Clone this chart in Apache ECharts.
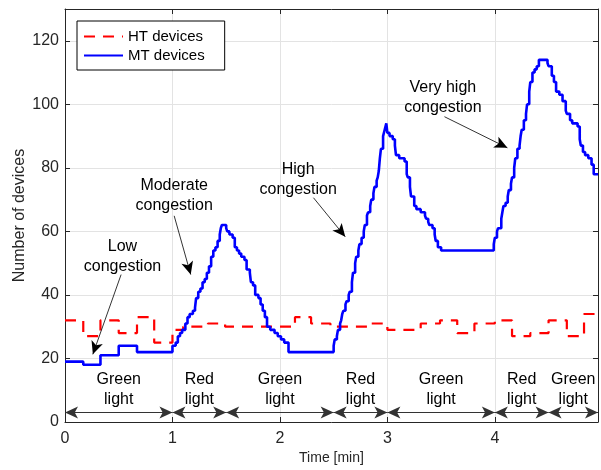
<!DOCTYPE html>
<html>
<head>
<meta charset="utf-8">
<script src="https://cdn.jsdelivr.net/npm/echarts@6.0.0/dist/echarts.min.js"></script>
<style>
    html, body { margin: 0; padding: 0; background: #fff; }
    #main { width: 601px; height: 470px; }
</style>
</head>
<body>
<div id="main"></div>
<script>
// time in minutes, value held until the next time (stairs)
var htTime = [0, 0.17, 0.33, 0.50, 0.67, 0.83, 1.00, 1.10, 1.33, 1.49, 2.14, 2.29, 2.47, 2.83,
    3.00, 3.31, 3.49, 3.65, 3.81, 4.00, 4.16, 4.33, 4.50, 4.67, 4.83, 4.96];
var htValue = [32, 27, 32, 28, 33, 25, 29, 30, 31, 30, 33, 31, 30, 31,
    29, 31, 32, 28, 31, 32, 27, 28, 32, 27, 34, 34];

var mtTime = [0, 0.17, 0.33, 0.50, 0.67,
    1.00, 1.03, 1.05, 1.07, 1.09, 1.12, 1.14, 1.16, 1.19, 1.21, 1.22, 1.24, 1.26, 1.28, 1.30,
    1.32, 1.34, 1.36, 1.38, 1.40, 1.42, 1.44, 1.45, 1.46, 1.50, 1.51, 1.53, 1.56, 1.58, 1.60,
    1.62, 1.64, 1.67, 1.69, 1.72, 1.73, 1.75, 1.77, 1.80, 1.82, 1.84, 1.86, 1.88, 1.91, 1.95,
    1.98, 2.01, 2.04, 2.08,
    2.50, 2.51, 2.53, 2.54, 2.56, 2.57, 2.58, 2.59, 2.61, 2.62, 2.64, 2.65, 2.67, 2.68, 2.70,
    2.71, 2.73, 2.74, 2.76, 2.78, 2.79, 2.81, 2.82, 2.84, 2.85, 2.87, 2.88, 2.90, 2.91, 2.92,
    2.93, 2.94, 2.96, 2.975, 2.99, 3.00, 3.02, 3.05, 3.07, 3.08, 3.11, 3.16, 3.18, 3.19, 3.21,
    3.22, 3.25, 3.27, 3.31, 3.35, 3.36, 3.38, 3.39, 3.42, 3.44, 3.45, 3.47, 3.50,
    3.99, 4.00, 4.02, 4.03, 4.06, 4.07, 4.08, 4.10, 4.12, 4.13, 4.15, 4.16, 4.18, 4.19, 4.21,
    4.23, 4.24, 4.25, 4.27, 4.29, 4.30, 4.32, 4.33, 4.35, 4.37, 4.39, 4.41, 4.49, 4.50, 4.53,
    4.55, 4.57, 4.60, 4.63, 4.66, 4.67, 4.70, 4.72, 4.77, 4.79, 4.80, 4.82, 4.84, 4.87, 4.90,
    4.92, 4.96];
var mtValue = [19, 18, 21, 24, 22,
    24, 25, 27, 28, 29, 31, 33, 34, 35, 36, 39, 41, 42, 44, 45,
    47, 49, 52, 54, 55, 57, 59, 61, 62, 61, 60, 59, 58, 55, 54,
    53, 52, 51, 48, 47, 44, 43, 40, 39, 37, 35, 33, 30, 29, 28,
    27, 26, 25, 22,
    24, 26, 27, 29, 31, 32, 34, 35, 37, 38, 40, 41, 44, 47, 50,
    52, 54, 56, 58, 60, 62, 65, 66, 68, 70, 72, 74, 76, 77, 79,
    83, 86, 90, 92, 94, 91, 90, 89, 87, 84, 83, 82, 78, 77, 74,
    71, 68, 67, 66, 65, 64, 63, 62, 61, 59, 57, 55, 54,
    56, 58, 60, 61, 64, 66, 68, 69, 71, 73, 75, 77, 80, 83, 86,
    87, 90, 92, 95, 97, 100, 104, 107, 110, 111, 112, 114, 113, 112, 109,
    107, 104, 103, 101, 98, 97, 95, 94, 93, 89, 87, 85, 84, 83, 81,
    78, 78];

// traffic light phases
var phaseEdges = [0, 1, 1.5, 2.5, 3, 4, 4.5, 4.96];
var phaseNames = ['Green\nlight', 'Red\nlight', 'Green\nlight', 'Red\nlight', 'Green\nlight', 'Red\nlight', 'Green\nlight'];

// annotations (data coordinates)
var noteText = ['Low\ncongestion', 'Moderate\ncongestion', 'High\ncongestion', 'Very high\ncongestion'];
var noteAt = [[0.535, 52.0], [1.016, 71.2], [2.17, 76.3], [3.516, 102.2]];
var noteFrom = [[0.522, 46.4], [1.016, 64.9], [2.312, 70.6], [3.531, 96.1]];
var noteTo = [[0.259, 21.3], [1.170, 46.4], [2.608, 58.3], [4.117, 86.3]];

var xMax = 4.96;
var yMax = 130;
var font = 'Liberation Sans, Arial, Helvetica, sans-serif';
var axisColor = '#262626';

function pairs(xs, ys) {
    var out = [];
    for (var i = 0; i < xs.length; i++) {
        out.push([xs[i], ys[i]]);
    }
    return out;
}

var myChart = echarts.init(document.getElementById('main'), null, {renderer: 'canvas'});

var arrowLines = [];
var labelPoints = [];
for (var i = 0; i < phaseNames.length; i++) {
    arrowLines.push([
        {coord: [phaseEdges[i], 3], symbol: 'arrow'},
        {coord: [phaseEdges[i + 1], 3], symbol: 'arrow'}
    ]);
    labelPoints.push({name: phaseNames[i], coord: [(phaseEdges[i] + phaseEdges[i + 1]) / 2, 10.2]});
}
for (var j = 0; j < noteText.length; j++) {
    arrowLines.push([
        {coord: noteFrom[j], symbol: 'none', lineStyle: {color: '#000', width: 0.8}},
        {coord: noteTo[j], symbol: 'arrow'}
    ]);
    labelPoints.push({name: noteText[j], coord: noteAt[j]});
}

var option = {
    animation: false,
    backgroundColor: '#fff',
    textStyle: {fontFamily: font},
    grid: {left: 65, top: 9, right: 0, bottom: 47},
    legend: {
        data: ['HT devices', 'MT devices'],
        orient: 'vertical',
        left: 77,
        top: 21,
        padding: [8, 20, 7, 6],
        itemWidth: 39,
        itemHeight: 14,
        itemGap: 4,
        itemStyle: {opacity: 0},
        backgroundColor: '#fff',
        borderColor: '#000',
        borderWidth: 1,
        borderRadius: 0,
        textStyle: {fontSize: 15, color: '#000', fontFamily: font}
    },
    xAxis: [
        {
            type: 'value',
            min: 0,
            max: xMax,
            interval: 1,
            name: 'Time [min]',
            nameLocation: 'middle',
            nameGap: 29,
            nameMoveOverlap: false,
            nameTextStyle: {fontSize: 14, color: axisColor, fontFamily: font},
            axisLine: {show: true, onZero: false, lineStyle: {color: axisColor}},
            axisTick: {inside: true, length: 5, lineStyle: {color: axisColor}},
            axisLabel: {
                fontSize: 16, color: axisColor, margin: 9, fontFamily: font,
                formatter: function (v) { return v % 1 === 0 ? String(v) : ''; }
            },
            splitLine: {show: true, lineStyle: {color: '#e3e3e3'}}
        },
        {
            type: 'value',
            position: 'top',
            min: 0,
            max: xMax,
            interval: 1,
            axisLine: {show: true, onZero: false, lineStyle: {color: axisColor}},
            axisTick: {inside: true, length: 5, lineStyle: {color: axisColor}},
            axisLabel: {show: false},
            splitLine: {show: false}
        }
    ],
    yAxis: [
        {
            type: 'value',
            min: 0,
            max: yMax,
            interval: 20,
            name: 'Number of devices',
            nameLocation: 'middle',
            nameGap: 37,
            nameMoveOverlap: false,
            nameTextStyle: {fontSize: 16, color: axisColor, fontFamily: font},
            axisLine: {show: true, onZero: false, lineStyle: {color: axisColor}},
            axisTick: {inside: true, length: 5, lineStyle: {color: axisColor}},
            axisLabel: {
                fontSize: 16, color: axisColor, margin: 6, fontFamily: font,
                formatter: function (v) { return v % 20 === 0 ? String(v) : ''; }
            },
            splitLine: {show: true, lineStyle: {color: '#e3e3e3'}}
        },
        {
            type: 'value',
            position: 'right',
            min: 0,
            max: yMax,
            interval: 20,
            axisLine: {show: true, onZero: false, lineStyle: {color: axisColor}},
            axisTick: {inside: true, length: 5, lineStyle: {color: axisColor}},
            axisLabel: {show: false},
            splitLine: {show: false}
        }
    ],
    series: [
        {
            name: 'HT devices',
            type: 'line',
            step: 'end',
            symbol: 'none',
            data: pairs(htTime, htValue),
            itemStyle: {color: '#ff0000'},
            lineStyle: {color: '#ff0000', width: 2.2, type: [11, 8]},
            z: 3
        },
        {
            name: 'MT devices',
            type: 'line',
            step: 'end',
            symbol: 'none',
            data: pairs(mtTime, mtValue),
            itemStyle: {color: '#0000ff'},
            lineStyle: {color: '#0000ff', width: 2.6},
            z: 4
        },
        {
            name: 'notes',
            type: 'line',
            data: [],
            z: 5,
            markLine: {
                silent: true,
                animation: false,
                symbol: ['arrow', 'arrow'],
                symbolSize: [9, 13],
                label: {show: false},
                lineStyle: {color: '#333', width: 1, type: 'solid'},
                itemStyle: {color: '#000'},
                emphasis: {disabled: true},
                data: arrowLines
            },
            markPoint: {
                silent: true,
                animation: false,
                symbol: 'circle',
                symbolSize: 1,
                itemStyle: {color: 'rgba(0,0,0,0)'},
                label: {
                    show: true,
                    position: 'inside',
                    formatter: '{b}',
                    color: '#000',
                    fontSize: 16,
                    lineHeight: 20,
                    align: 'center',
                    fontFamily: font
                },
                data: labelPoints
            }
        }
    ]
};
myChart.setOption(option);
</script>
</body>
</html>
